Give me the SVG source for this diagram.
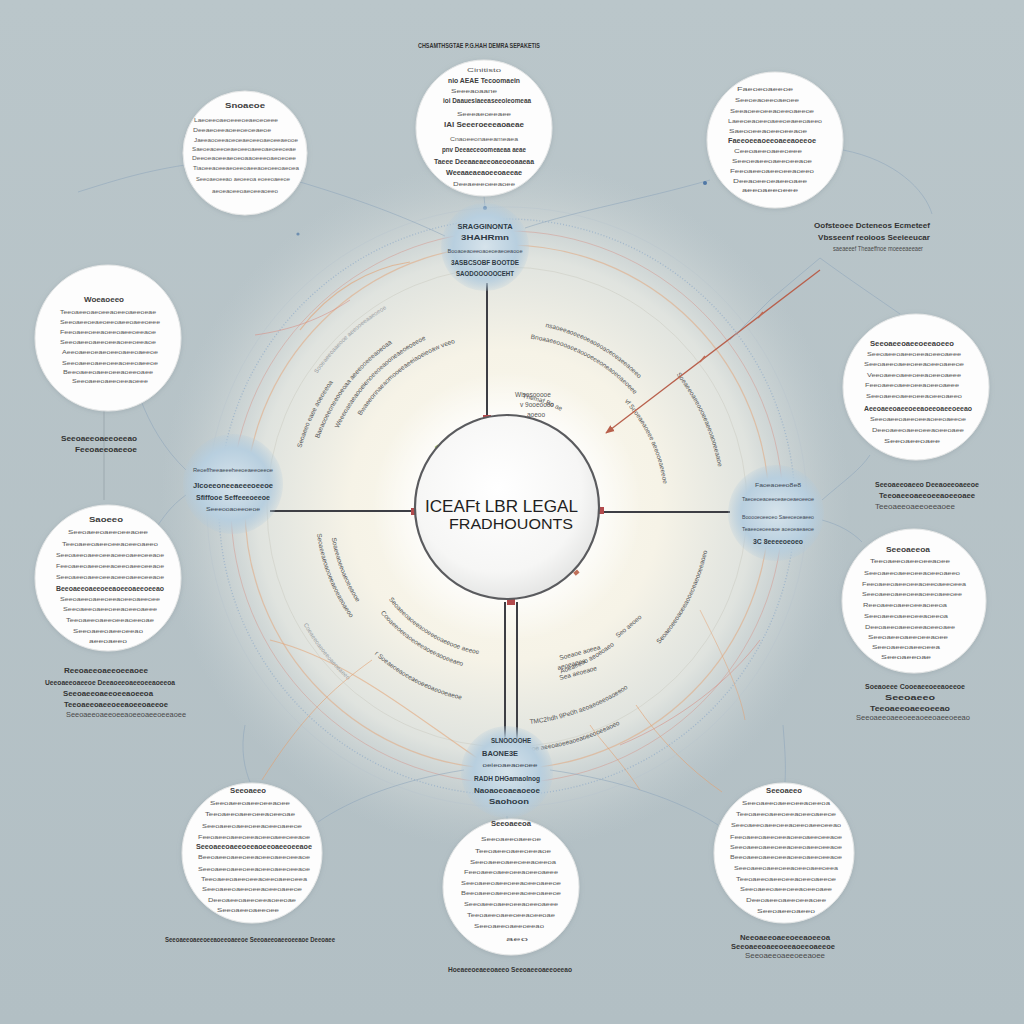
<svg xmlns="http://www.w3.org/2000/svg" width="1024" height="1024" viewBox="0 0 1024 1024">
<defs>
<style>
.ct{font-family:"Liberation Sans",Arial,sans-serif;font-size:6px;fill:#585858;text-anchor:middle}
.cb{font-family:"Liberation Sans",Arial,sans-serif;font-size:6.5px;font-weight:bold;fill:#3e3e3e;text-anchor:middle}
.hb{font-family:"Liberation Sans",Arial,sans-serif;font-size:7px;font-weight:bold;fill:#2f3a44;text-anchor:middle}
.hs{font-family:"Liberation Sans",Arial,sans-serif;font-size:6px;fill:#3c4854;text-anchor:middle}
.lb{font-family:"Liberation Sans",Arial,sans-serif;font-size:7px;font-weight:bold;fill:#333;text-anchor:middle}
.ls{font-family:"Liberation Sans",Arial,sans-serif;font-size:6.5px;fill:#4a4a4a;text-anchor:middle}
.arc{font-family:"Liberation Sans",Arial,sans-serif;font-size:6.5px;fill:#555}
.arcf{font-family:"Liberation Sans",Arial,sans-serif;font-size:6px;fill:#9aa0a4}
.node{fill:#fdfdfd;stroke:#e4e6e6;stroke-width:1;filter:url(#sh)}
.hubc{fill:url(#hub)}
.main{stroke:#3d3e44;stroke-width:2;fill:none}
.faint{stroke:#8ea5bb;stroke-width:0.8;fill:none;opacity:0.7}
.orng{stroke:#e3a070;stroke-width:1;fill:none;opacity:0.6}
.jn{fill:#b24a4c}
</style>
<linearGradient id="bg" x1="0" y1="0" x2="0" y2="1"><stop offset="0" stop-color="#bac6ca"/><stop offset="1" stop-color="#b2bfc4"/></linearGradient>
<radialGradient id="glow" cx="505" cy="505" r="345" gradientUnits="userSpaceOnUse">
<stop offset="0" stop-color="#fbf9ee"/><stop offset="0.45" stop-color="#f6f3e7"/><stop offset="0.72" stop-color="#e7e9e3" stop-opacity="0.85"/><stop offset="1" stop-color="#c6d0d3" stop-opacity="0"/></radialGradient>
<radialGradient id="halo" cx="507" cy="507" r="135" gradientUnits="userSpaceOnUse"><stop offset="0.6" stop-color="#ffffff" stop-opacity="0.9"/><stop offset="1" stop-color="#ffffff" stop-opacity="0"/></radialGradient>
<radialGradient id="core" cx="0.45" cy="0.4" r="0.65"><stop offset="0" stop-color="#ffffff"/><stop offset="0.7" stop-color="#f6f6f5"/><stop offset="1" stop-color="#e0e1e0"/></radialGradient>
<radialGradient id="hub" cx="0.5" cy="0.5" r="0.5"><stop offset="0" stop-color="#d6e3eb"/><stop offset="0.72" stop-color="#b8cfdf"/><stop offset="1" stop-color="#b0c9db" stop-opacity="0.2"/></radialGradient>
<filter id="sh" x="-20%" y="-20%" width="140%" height="140%"><feDropShadow dx="0" dy="1" stdDeviation="2.5" flood-color="#7f8f96" flood-opacity="0.35"/></filter>
<marker id="ah" viewBox="0 0 10 10" refX="9" refY="5" markerWidth="7" markerHeight="7" orient="auto"><path d="M0,1 L10,5 L0,9 z" fill="#b8604c"/></marker>
<path id="a1" d="M361.1,415.8 A172,172 0 0,1 453.8,343.4"/>
<path id="a2" d="M338.5,428.4 A186,186 0 0,1 431.3,337"/>
<path id="a3" d="M319,438.6 A200,200 0 0,1 401,337.4"/>
<path id="a4" d="M301.3,448 A214,214 0 0,1 358.3,353.1"/>
<path id="a5" d="M317,373.8 A232,232 0 0,1 427.7,288.9"/>
<path id="b1" d="M530.6,338.7 A170,170 0 0,1 633.3,393.3"/>
<path id="b2" d="M545.3,327 A184,184 0 0,1 639.3,379.1"/>
<path id="b3" d="M624.4,401.3 A158,158 0 0,1 663.4,485"/>
<path id="b4" d="M676.4,374.6 A215,215 0 0,1 719.9,477.1"/>
<path id="b5" d="M522.3,398.1 A110,110 0 0,1 562,411.7"/>
<path id="c1" d="M388.8,599.4 A150,150 0 0,0 480.9,654.7"/>
<path id="c2" d="M380.6,613.1 A165,165 0 0,0 472.7,668.4"/>
<path id="c3" d="M374.5,654.1 A198,198 0 0,0 462.5,699.9"/>
<path id="c4" d="M316.9,533.7 A192,192 0 0,0 359.9,630.4"/>
<path id="c5" d="M331.7,537.9 A178,178 0 0,0 361.2,609.2"/>
<path id="c6" d="M303.5,624.5 A235,235 0 0,0 389.5,710.5"/>
<path id="d1" d="M529.9,723.9 A218,218 0 0,0 628.9,687.7"/>
<path id="d2" d="M524.1,751.5 A245,245 0 0,0 621.9,723.3"/>
<path id="d3" d="M561.1,673.4 A175,175 0 0,0 619.5,641.1"/>
<path id="d4" d="M659.3,644.1 A205,205 0 0,0 707.5,549.6"/>
</defs>

<rect width="1024" height="1024" fill="url(#bg)"/>
<circle cx="505" cy="505" r="345" fill="url(#glow)"/>

<g id="rings" fill="none">
<circle cx="507" cy="507" r="240" stroke="#c9c9bf" stroke-width="1" opacity="0.5"/>
<circle cx="507" cy="507" r="262" stroke="#e3a273" stroke-width="1.2" opacity="0.5"/>
<circle cx="507" cy="507" r="276" stroke="#d8877a" stroke-width="1" opacity="0.4"/>
<circle cx="507" cy="507" r="288" stroke="#7c9dc6" stroke-width="1.3" stroke-dasharray="1 2" opacity="0.5"/>
<circle cx="507" cy="507" r="300" stroke="#b6c2cc" stroke-width="0.8" opacity="0.5"/>
<path d="M300,330 C330,290 370,268 410,262" stroke="#e3a070" stroke-width="1.2" opacity="0.6"/>
<path d="M255,335 C290,330 320,320 350,300" stroke="#d98478" stroke-width="1" opacity="0.5"/>
<path d="M270,640 C350,660 420,720 480,760" stroke="#e3a070" stroke-width="1.2" opacity="0.55"/>
<path d="M700,610 C720,650 740,690 745,720" stroke="#e3a070" stroke-width="1" opacity="0.5"/>
<path d="M620,745 C680,720 730,680 760,640" stroke="#d98478" stroke-width="1" opacity="0.5"/>
</g>
<circle cx="507" cy="507" r="135" fill="url(#halo)"/>

<g id="arctext">
<text class="arc"><textPath href="#a1">Bwaeeonnaeaomooeeaeeiaoeieoaw veeoeo</textPath></text>
<text class="arc"><textPath href="#a2">Weeeoaeaeaooeienoeeoeaooneaeoeoeeoe</textPath></text>
<text class="arc"><textPath href="#a3">Baeaooeeoneeooeoaa aeeeooeeeaoeoaa</textPath></text>
<text class="arc"><textPath href="#a4">Seoaeeo eaee aoeoeeoa</textPath></text>
<text class="arcf"><textPath href="#a5">Sooeaeeoaaeooe  aeeooeeaaeoeoe</textPath></text>
<text class="arc"><textPath href="#b1">Bnoaaeeoooaeeaoooeeeoneaoeoaeoeee</textPath></text>
<text class="arc"><textPath href="#b2">nsaoeeaoeeeoeaoeoaoeoeaeeaoeeo</textPath></text>
<text class="arc"><textPath href="#b3">vf Sooeaeaoeee aeeooeaeeeoe</textPath></text>
<text class="arc"><textPath href="#b4">Soeaeeoaeeoooeeaeeoaooeeaaoe</textPath></text>
<text class="arc"><textPath href="#b5">Themaf Bo aehd</textPath></text>
<text class="arc"><textPath href="#c1">Seoaeeoaoeeaooeeeoaeeooe aeeoe</textPath></text>
<text class="arc"><textPath href="#c2">Cooaeeoeeaoeoeeaoeeaooeeaeo</textPath></text>
<text class="arc"><textPath href="#c3">r Soeaeoeaoeeaeoeeoaeooeaeoeaoe</textPath></text>
<text class="arc"><textPath href="#c4">Seoaeeaeoaooeeaeoeaeoaeoo</textPath></text>
<text class="arc"><textPath href="#c5">Soaeeaoeeoaeoeeaooe</textPath></text>
<text class="arcf"><textPath href="#c6">Coeaeeoaeoeeoaeoeaeeo</textPath></text>
<text class="arc"><textPath href="#d1">TMC2hdh 9Pe0h aeoaeoeeoaoeeooea</textPath></text>
<text class="arc"><textPath href="#d2">Seoe aeeoaoeeaoeaoeeooeeaoeo</textPath></text>
<text class="arc"><textPath href="#d3">Aoeaeeoo aeoeoaeo</textPath></text>
<text class="arc"><textPath href="#d4">Seoaeoeeoaoeeaooeoeaeooeeaoeo</textPath></text>
<text class="arc" x="560" y="660" transform="rotate(-15 560 660)">Soeaoe aoeea</text>
<text class="arc" x="558" y="670" transform="rotate(-15 558 670)">aeoeaeea</text>
<text class="arc" x="560" y="680" transform="rotate(-15 560 680)">Sea aeoeaoe</text>
<text class="arc" x="618" y="638" transform="rotate(-40 618 638)">Seo aeoeo</text>
<text class="arc" x="515" y="397">Wisosooooe</text>
<text class="arc" x="520" y="407">v 9ooeoooo</text>
<text class="arc" x="527" y="417">aoeoo</text>
</g>

<g id="connectors">
<line class="main" x1="487" y1="283" x2="487" y2="418"/>
<line class="main" x1="270" y1="511" x2="416" y2="511"/>
<line class="main" x1="599" y1="512" x2="730" y2="512"/>
<line class="main" x1="505" y1="602" x2="505" y2="740"/>
<line class="main" x1="517" y1="602" x2="517" y2="740"/>
<path d="M820,270 L606,433" stroke="#b8604c" stroke-width="1.3" fill="none" marker-end="url(#ah)"/>
<path d="M758,318 l5,-6 M700,362 l5,-6" stroke="#c06a55" stroke-width="1.5"/>
<path class="faint" d="M300,182 C360,200 400,215 445,236"/>
<path class="faint" d="M185,165 C140,172 110,182 78,192"/>
<path class="faint" d="M484,196 L485,207"/>
<path class="faint" d="M710,180 C640,200 580,210 525,228"/>
<path class="faint" d="M843,150 C895,160 925,190 932,214"/>
<path class="faint" d="M820,258 C850,280 880,300 900,314"/>
<path class="faint" d="M820,258 L770,300 L730,340"/>
<path d="M104,405 L104,500" stroke="#9aa6ad" stroke-width="0.9" fill="none"/>
<path class="faint" d="M186,470 C165,450 150,425 140,398"/>
<path class="faint" d="M186,495 C165,510 160,525 150,535"/>
<path class="faint" d="M822,520 C840,525 852,532 862,542"/>
<path class="faint" d="M822,500 C845,480 860,470 870,455"/>
<path class="faint" d="M464,770 C400,780 350,800 318,822"/>
<path class="faint" d="M550,770 C620,780 680,800 718,825"/>
<path class="faint" d="M507,816 L507,821"/>
<path class="faint" d="M245,725 C240,750 245,770 250,782"/>
<path class="faint" d="M783,725 C785,750 786,765 785,782"/>
<path class="orng" d="M262,780 C300,720 330,690 372,660"/>
<path class="orng" d="M722,792 C690,770 660,740 636,705"/>
<path class="orng" d="M640,790 C620,760 600,740 590,725"/>
<circle cx="485" cy="208" r="2" fill="#4f77a5"/>
<circle cx="705" cy="183" r="2" fill="#4f77a5"/>
<circle cx="298" cy="234" r="1.6" fill="#6f8fb0"/>
<rect class="jn" x="483" y="415" width="8" height="6"/>
<rect class="jn" x="411" y="508" width="7" height="7"/>
<rect class="jn" x="597" y="507" width="7" height="7"/>
<rect class="jn" x="507" y="599" width="8" height="6"/>
<rect x="436" y="445" width="4" height="6" fill="#a7c070" transform="rotate(-40 438 448)"/>
<rect x="574" y="571" width="5" height="4" fill="#c0705a" transform="rotate(-40 576 573)"/>
</g>

<g id="center">
<circle cx="507" cy="507" r="92" fill="url(#core)" stroke="#5a5b5e" stroke-width="2.2"/>
<text x="501.5" y="512" font-family="Liberation Sans, Arial, sans-serif" font-size="16" fill="#1f1f22" text-anchor="middle" textLength="153" lengthAdjust="spacingAndGlyphs">ICEAFt LBR LEGAL</text>
<text x="511" y="529" font-family="Liberation Sans, Arial, sans-serif" font-size="15.5" fill="#1f1f22" text-anchor="middle" textLength="124" lengthAdjust="spacingAndGlyphs">FRADHOUONTS</text>
</g>

<g id="hub-top">
<circle class="hubc" cx="485" cy="247" r="44"/>
<text class="hb" x="485" y="229" textLength="55" lengthAdjust="spacingAndGlyphs">SRAGGINONTA</text>
<text class="hb" x="485" y="240" textLength="48" lengthAdjust="spacingAndGlyphs">3HAHRmn</text>
<text class="hs" x="485" y="253" textLength="75" lengthAdjust="spacingAndGlyphs">Booaoeaoeeoaoeoeaeoeaooe</text>
<text class="hb" x="485" y="265" textLength="68" lengthAdjust="spacingAndGlyphs">3ASBCSOBF BOOTDE</text>
<text class="hb" x="485" y="276" textLength="58" lengthAdjust="spacingAndGlyphs">SAODOOOOOCEHT</text>
</g>

<g id="hub-left">
<circle class="hubc" cx="233" cy="484" r="50"/>
<text class="hs" x="233" y="472" textLength="80" lengthAdjust="spacingAndGlyphs">Reoeffheeaeeeheeoeaeeoeeoe</text>
<text class="hb" x="233" y="488" textLength="80" lengthAdjust="spacingAndGlyphs">Jlcoeeoneeaeeeoeeoe</text>
<text class="hb" x="233" y="500" textLength="74" lengthAdjust="spacingAndGlyphs">Sfiffooe Seffeeeoeeoe</text>
<text class="hs" x="233" y="511" textLength="54" lengthAdjust="spacingAndGlyphs">Seeeooaoeeoeoe</text>
</g>

<g id="hub-right">
<circle class="hubc" cx="776" cy="513" r="48"/>
<text class="hs" x="778" y="487" textLength="46" lengthAdjust="spacingAndGlyphs">Faoeaoeeo8e8</text>
<text class="hs" x="778" y="501" textLength="72" lengthAdjust="spacingAndGlyphs">Taeoeoeaoeeoeaeoeaeoeeoe</text>
<text class="hs" x="778" y="519" textLength="72" lengthAdjust="spacingAndGlyphs">Booooeoeeoeo Saeeoeoeaeeo</text>
<text class="hs" x="778" y="531" textLength="72" lengthAdjust="spacingAndGlyphs">Teaeeoeoeeaoe aoeoeaeaeoe</text>
<text class="hb" x="778" y="544" textLength="50" lengthAdjust="spacingAndGlyphs">3C 8eeeeoeoeo</text>
</g>

<g id="hub-bottom">
<circle class="hubc" cx="507" cy="772" r="46"/>
<text class="hb" x="511" y="743" textLength="40" lengthAdjust="spacingAndGlyphs">SLNOOOOHE</text>
<text class="hb" x="500" y="756" textLength="36" lengthAdjust="spacingAndGlyphs">BAONE3E</text>
<text class="hs" x="510" y="767" textLength="55" lengthAdjust="spacingAndGlyphs">oeieoaeaoeoee</text>
<text class="hb" x="507" y="781" textLength="66" lengthAdjust="spacingAndGlyphs">RADH DHGamaolnog</text>
<text class="hb" x="507" y="793" textLength="66" lengthAdjust="spacingAndGlyphs">Naoaoeoaeaoeoe</text>
<text class="hb" x="509" y="804" textLength="40" lengthAdjust="spacingAndGlyphs">Saohoon</text>
</g>

<g id="node-1">
<circle class="node" cx="484" cy="128" r="68"/>
<text class="ct" x="484" y="72" textLength="34" lengthAdjust="spacingAndGlyphs">Cinitisto</text>
<text class="cb" x="484" y="83" textLength="72" lengthAdjust="spacingAndGlyphs">nio AEAE Tecoomaein</text>
<text class="ct" x="474" y="93" textLength="46" lengthAdjust="spacingAndGlyphs">Seeeaoaane</text>
<text class="cb" x="487" y="103" textLength="88" lengthAdjust="spacingAndGlyphs">ioi Daauesiaeeaseeoieomeaa</text>
<text class="ct" x="484" y="116" textLength="54" lengthAdjust="spacingAndGlyphs">Seeeaeoeeaee</text>
<text class="cb" x="484" y="127" textLength="80" lengthAdjust="spacingAndGlyphs">IAI Seeeroeeeaoaeae</text>
<text class="ct" x="484" y="141" textLength="68" lengthAdjust="spacingAndGlyphs">Cnaoeeonaeeameaea</text>
<text class="cb" x="484" y="152" textLength="84" lengthAdjust="spacingAndGlyphs">pnv Deeaeceoomeaeaa aeae</text>
<text class="cb" x="484" y="164" textLength="100" lengthAdjust="spacingAndGlyphs">Taeee Deeaaeaeeoaeoeoaaeaa</text>
<text class="cb" x="484" y="175" textLength="76" lengthAdjust="spacingAndGlyphs">Weeaaeaeaoeeoaeeae</text>
<text class="ct" x="484" y="186" textLength="62" lengthAdjust="spacingAndGlyphs">Deeaeeeoeeaoee</text>
</g>

<g id="node-2">
<circle class="node" cx="245" cy="153" r="62"/>
<text class="cb" x="245" y="108" textLength="40" lengthAdjust="spacingAndGlyphs">Snoaeoe</text>
<text class="ct" x="236" y="122" textLength="84" lengthAdjust="spacingAndGlyphs">Laeoeeoaeoeeeoeaeoeoeee</text>
<text class="ct" x="232" y="132" textLength="78" lengthAdjust="spacingAndGlyphs">Deeaeoeeaoeeoeoeaeoe</text>
<text class="ct" x="246" y="142" textLength="104" lengthAdjust="spacingAndGlyphs">Jaeeaooeeaoeoeaeoeeoaeoeeaeooe</text>
<text class="ct" x="244" y="151" textLength="104" lengthAdjust="spacingAndGlyphs">Saeoeaoeeoeaeoeeoaeeoaeoeeoeae</text>
<text class="ct" x="244" y="160" textLength="104" lengthAdjust="spacingAndGlyphs">Deeoeaoeeaeoeoaaoeeeoaeoeoee</text>
<text class="ct" x="246" y="170" textLength="106" lengthAdjust="spacingAndGlyphs">Tiaoeeaoeeaeoeeoaeeaoeoeeoaeoea</text>
<text class="ct" x="243" y="181" textLength="94" lengthAdjust="spacingAndGlyphs">Seeoaeoeeao aeoeeoa eoeeoaeeoe</text>
<text class="ct" x="245" y="193" textLength="66" lengthAdjust="spacingAndGlyphs">aeoeaoeeoaeoeeaoeeo</text>
</g>

<g id="node-3">
<circle class="node" cx="775" cy="140" r="68"/>
<text class="ct" x="765" y="91" textLength="56" lengthAdjust="spacingAndGlyphs">Faeoeoaeeoe</text>
<text class="ct" x="767" y="102" textLength="64" lengthAdjust="spacingAndGlyphs">Seeoeaoeeoaeoee</text>
<text class="ct" x="772" y="113" textLength="84" lengthAdjust="spacingAndGlyphs">Seeaoeeoeeaoeeoaeeoe</text>
<text class="ct" x="775" y="123" textLength="94" lengthAdjust="spacingAndGlyphs">Laeeoeaoeeoaeeoeaeeoaeeo</text>
<text class="ct" x="768" y="133" textLength="78" lengthAdjust="spacingAndGlyphs">Saeooeeaoeeoeeaoe</text>
<text class="cb" x="772" y="143" textLength="88" lengthAdjust="spacingAndGlyphs">Faeeoeeaoeeoaeeaoeeoe</text>
<text class="ct" x="768" y="153" textLength="68" lengthAdjust="spacingAndGlyphs">Ceeoaeeoaeeoeee</text>
<text class="ct" x="772" y="163" textLength="80" lengthAdjust="spacingAndGlyphs">Seeoeaeeoaeeoeeaoe</text>
<text class="ct" x="772" y="173" textLength="84" lengthAdjust="spacingAndGlyphs">Feeoaeeoaeeoeeaoeeo</text>
<text class="ct" x="770" y="183" textLength="74" lengthAdjust="spacingAndGlyphs">Deeaoeeoeaeeoaee</text>
<text class="ct" x="770" y="192" textLength="56" lengthAdjust="spacingAndGlyphs">aeeoaeeoeee</text>
</g>

<g id="node-4">
<circle class="node" cx="108" cy="338" r="73"/>
<text class="cb" x="104" y="302" textLength="40" lengthAdjust="spacingAndGlyphs">Woeaoeeo</text>
<text class="ct" x="108" y="314" textLength="96" lengthAdjust="spacingAndGlyphs">Teeoaeeoaeoeeaoeeoaeeoeae</text>
<text class="ct" x="110" y="324" textLength="100" lengthAdjust="spacingAndGlyphs">Seeoaeeoeaeoeeoaeeoaeeoeee</text>
<text class="ct" x="108" y="334" textLength="96" lengthAdjust="spacingAndGlyphs">Feeoaeeoeeaoeeoaeeoeeaoe</text>
<text class="ct" x="108" y="344" textLength="96" lengthAdjust="spacingAndGlyphs">Seeoaeeoaeeoeeaoeeoeeaoe</text>
<text class="ct" x="110" y="354" textLength="96" lengthAdjust="spacingAndGlyphs">Aeeoaeeoeaeoeeoaeeoaeeoe</text>
<text class="ct" x="110" y="365" textLength="96" lengthAdjust="spacingAndGlyphs">Seeoaeeoaeeoeeaoeeoaeeoe</text>
<text class="ct" x="108" y="374" textLength="90" lengthAdjust="spacingAndGlyphs">Beeoaeeoaeeoeeaoeeoaee</text>
<text class="ct" x="110" y="383" textLength="76" lengthAdjust="spacingAndGlyphs">Seeoaeeoaeeoeeaoeee</text>
</g>

<g id="node-5">
<circle class="node" cx="916" cy="387" r="73"/>
<text class="cb" x="912" y="346" textLength="84" lengthAdjust="spacingAndGlyphs">Seeoaeeoaeeoeeaoeeo</text>
<text class="ct" x="914" y="356" textLength="94" lengthAdjust="spacingAndGlyphs">Seeoaeeoaeeoeeaoeeoaeee</text>
<text class="ct" x="914" y="366" textLength="100" lengthAdjust="spacingAndGlyphs">Seeoaeeoaeeoeeaoeeoaeeoe</text>
<text class="ct" x="914" y="377" textLength="94" lengthAdjust="spacingAndGlyphs">Veeoaeeoaeeoeeaoeeoaeee</text>
<text class="ct" x="912" y="387" textLength="94" lengthAdjust="spacingAndGlyphs">Feeoaeeoaeeoeeaoeeoaeee</text>
<text class="ct" x="914" y="398" textLength="96" lengthAdjust="spacingAndGlyphs">Seeoaeeoaeeoeeaoeeoaeeo</text>
<text class="cb" x="918" y="411" textLength="108" lengthAdjust="spacingAndGlyphs">Aeeoaeeoaeeoeeaoeeoaeeoeeao</text>
<text class="ct" x="918" y="421" textLength="96" lengthAdjust="spacingAndGlyphs">Seeoaeeoaeeoeeaoeeoaeeoe</text>
<text class="ct" x="918" y="432" textLength="92" lengthAdjust="spacingAndGlyphs">Deeoaeeoaeeoeeaoeeoaee</text>
<text class="ct" x="912" y="443" textLength="56" lengthAdjust="spacingAndGlyphs">Seeoaeeoaee</text>
</g>

<g id="node-6">
<circle class="node" cx="108" cy="578" r="73"/>
<text class="cb" x="106" y="522" textLength="34" lengthAdjust="spacingAndGlyphs">Saoeeo</text>
<text class="ct" x="108" y="534" textLength="80" lengthAdjust="spacingAndGlyphs">Seeoaeeoaeeoeeaoee</text>
<text class="ct" x="110" y="546" textLength="96" lengthAdjust="spacingAndGlyphs">Teeoaeeoaeeoeeaoeeoaeeo</text>
<text class="ct" x="110" y="557" textLength="108" lengthAdjust="spacingAndGlyphs">Seeoaeeoaeeoeeaoeeoaeeoeeaoe</text>
<text class="ct" x="110" y="568" textLength="108" lengthAdjust="spacingAndGlyphs">Feeoaeeoaeeoeeaoeeoaeeoeeaoe</text>
<text class="ct" x="110" y="579" textLength="108" lengthAdjust="spacingAndGlyphs">Seeoaeeoaeeoeeaoeeoaeeoeeaoe</text>
<text class="cb" x="110" y="591" textLength="108" lengthAdjust="spacingAndGlyphs">Beeoaeeoaeeoeeaoeeoaeeoeeao</text>
<text class="ct" x="110" y="601" textLength="100" lengthAdjust="spacingAndGlyphs">Seeoaeeoaeeoeeaoeeoaeeoee</text>
<text class="ct" x="110" y="611" textLength="94" lengthAdjust="spacingAndGlyphs">Seeoaeeoaeeoeeaoeeoaeee</text>
<text class="ct" x="110" y="622" textLength="88" lengthAdjust="spacingAndGlyphs">Teeoaeeoaeeoeeaoeeoae</text>
<text class="ct" x="108" y="633" textLength="70" lengthAdjust="spacingAndGlyphs">Seeoaeeoaeeoeeao</text>
<text class="ct" x="108" y="643" textLength="38" lengthAdjust="spacingAndGlyphs">aeeoaeeo</text>
</g>

<g id="node-7">
<circle class="node" cx="914" cy="601" r="72"/>
<text class="cb" x="908" y="552" textLength="44" lengthAdjust="spacingAndGlyphs">Seeoaeeoa</text>
<text class="ct" x="910" y="563" textLength="80" lengthAdjust="spacingAndGlyphs">Teeoaeeoaeeoeeaoee</text>
<text class="ct" x="912" y="575" textLength="96" lengthAdjust="spacingAndGlyphs">Seeoaeeoaeeoeeaoeeoaeeo</text>
<text class="ct" x="914" y="586" textLength="104" lengthAdjust="spacingAndGlyphs">Feeoaeeoaeeoeeaoeeoaeeoeea</text>
<text class="ct" x="912" y="596" textLength="100" lengthAdjust="spacingAndGlyphs">Seeoaeeoaeeoeeaoeeoaeeoee</text>
<text class="ct" x="905" y="607" textLength="84" lengthAdjust="spacingAndGlyphs">Reeoaeeoaeeoeeaoeeoa</text>
<text class="ct" x="906" y="618" textLength="84" lengthAdjust="spacingAndGlyphs">Seeoaeeoaeeoeeaoeeoa</text>
<text class="ct" x="910" y="629" textLength="90" lengthAdjust="spacingAndGlyphs">Deeoaeeoaeeoeeaoeeoaee</text>
<text class="ct" x="908" y="639" textLength="80" lengthAdjust="spacingAndGlyphs">Seeoaeeoaeeoeeaoee</text>
<text class="ct" x="906" y="649" textLength="68" lengthAdjust="spacingAndGlyphs">Seeoaeeoaeeoeea</text>
<text class="ct" x="906" y="659" textLength="50" lengthAdjust="spacingAndGlyphs">Seeoaeeoae</text>
</g>

<g id="node-8">
<circle class="node" cx="252" cy="853" r="70"/>
<text class="cb" x="248" y="793" textLength="36" lengthAdjust="spacingAndGlyphs">Seeoaeeo</text>
<text class="ct" x="250" y="805" textLength="80" lengthAdjust="spacingAndGlyphs">Seeoaeeoaeeoeeaoee</text>
<text class="ct" x="250" y="816" textLength="90" lengthAdjust="spacingAndGlyphs">Teeoaeeoaeeoeeaoeeoae</text>
<text class="ct" x="252" y="828" textLength="100" lengthAdjust="spacingAndGlyphs">Seeoaeeoaeeoeeaoeeoaeeoe</text>
<text class="ct" x="254" y="839" textLength="112" lengthAdjust="spacingAndGlyphs">Feeoaeeoaeeoeeaoeeoaeeoeeaoe</text>
<text class="cb" x="254" y="849" textLength="116" lengthAdjust="spacingAndGlyphs">Seeoaeeoaeeoeeaoeeoaeeoeeaoe</text>
<text class="ct" x="254" y="859" textLength="112" lengthAdjust="spacingAndGlyphs">Beeoaeeoaeeoeeaoeeoaeeoeeaoe</text>
<text class="ct" x="254" y="871" textLength="112" lengthAdjust="spacingAndGlyphs">Seeoaeeoaeeoeeaoeeoaeeoeeaoe</text>
<text class="ct" x="254" y="881" textLength="106" lengthAdjust="spacingAndGlyphs">Teeoaeeoaeeoeeaoeeoaeeoeea</text>
<text class="ct" x="252" y="891" textLength="100" lengthAdjust="spacingAndGlyphs">Seeoaeeoaeeoeeaoeeoaeeoe</text>
<text class="ct" x="252" y="902" textLength="88" lengthAdjust="spacingAndGlyphs">Deeoaeeoaeeoeeaoeeoae</text>
<text class="ct" x="248" y="912" textLength="62" lengthAdjust="spacingAndGlyphs">Seeoaeeoaeeoee</text>
</g>

<g id="node-9">
<circle class="node" cx="511" cy="887" r="68"/>
<text class="cb" x="511" y="826" textLength="40" lengthAdjust="spacingAndGlyphs">Seeoaeeoa</text>
<text class="ct" x="511" y="841" textLength="60" lengthAdjust="spacingAndGlyphs">Seeoaeeoaeeoe</text>
<text class="ct" x="513" y="853" textLength="76" lengthAdjust="spacingAndGlyphs">Teeoaeeoaeeoeeaoe</text>
<text class="ct" x="513" y="864" textLength="86" lengthAdjust="spacingAndGlyphs">Seeoaeeoaeeoeeaoeeoa</text>
<text class="ct" x="511" y="874" textLength="94" lengthAdjust="spacingAndGlyphs">Feeoaeeoaeeoeeaoeeoaeee</text>
<text class="ct" x="511" y="885" textLength="100" lengthAdjust="spacingAndGlyphs">Seeoaeeoaeeoeeaoeeoaeeoe</text>
<text class="ct" x="511" y="895" textLength="100" lengthAdjust="spacingAndGlyphs">Beeoaeeoaeeoeeaoeeoaeeoe</text>
<text class="ct" x="511" y="906" textLength="94" lengthAdjust="spacingAndGlyphs">Seeoaeeoaeeoeeaoeeoaeee</text>
<text class="ct" x="511" y="917" textLength="88" lengthAdjust="spacingAndGlyphs">Teeoaeeoaeeoeeaoeeoae</text>
<text class="ct" x="509" y="928" textLength="70" lengthAdjust="spacingAndGlyphs">Seeoaeeoaeeoeeao</text>
<text class="ct" x="517" y="941" textLength="22" lengthAdjust="spacingAndGlyphs">aeo</text>
</g>

<g id="node-10">
<circle class="node" cx="784" cy="853" r="70"/>
<text class="cb" x="784" y="793" textLength="36" lengthAdjust="spacingAndGlyphs">Seeoaeeo</text>
<text class="ct" x="786" y="805" textLength="88" lengthAdjust="spacingAndGlyphs">Seeoaeeoaeeoeeaoeeoa</text>
<text class="ct" x="786" y="816" textLength="100" lengthAdjust="spacingAndGlyphs">Teeoaeeoaeeoeeaoeeoaeeoe</text>
<text class="ct" x="786" y="827" textLength="110" lengthAdjust="spacingAndGlyphs">Seeoaeeoaeeoeeaoeeoaeeoeeao</text>
<text class="ct" x="786" y="839" textLength="112" lengthAdjust="spacingAndGlyphs">Feeoaeeoaeeoeeaoeeoaeeoeeaoe</text>
<text class="ct" x="786" y="849" textLength="112" lengthAdjust="spacingAndGlyphs">Seeoaeeoaeeoeeaoeeoaeeoeeaoe</text>
<text class="ct" x="786" y="859" textLength="112" lengthAdjust="spacingAndGlyphs">Beeoaeeoaeeoeeaoeeoaeeoeeaoe</text>
<text class="ct" x="786" y="870" textLength="104" lengthAdjust="spacingAndGlyphs">Seeoaeeoaeeoeeaoeeoaeeoeea</text>
<text class="ct" x="786" y="881" textLength="100" lengthAdjust="spacingAndGlyphs">Teeoaeeoaeeoeeaoeeoaeeoe</text>
<text class="ct" x="786" y="891" textLength="92" lengthAdjust="spacingAndGlyphs">Seeoaeeoaeeoeeaoeeoaee</text>
<text class="ct" x="786" y="902" textLength="80" lengthAdjust="spacingAndGlyphs">Deeoaeeoaeeoeeaoee</text>
<text class="ct" x="786" y="913" textLength="58" lengthAdjust="spacingAndGlyphs">Seeoaeeoaeeo</text>
</g>

<g id="labels">
<text class="lb" x="479" y="48" textLength="122" lengthAdjust="spacingAndGlyphs">CHSAMTHSGTAE P.G.HAH DEMRA SEPAKETIS</text>
<text class="lb" x="872" y="228" textLength="116" lengthAdjust="spacingAndGlyphs">Oofsteoee Dcteneos Ecmeteef</text>
<text class="lb" x="874" y="240" textLength="112" lengthAdjust="spacingAndGlyphs">Vbsseenf reoioos Seeieeucar</text>
<text class="ls" x="878" y="251" textLength="90" lengthAdjust="spacingAndGlyphs">saeaeeef Theaeffnoe moeeeaeeaer</text>
<text class="lb" x="99" y="441" textLength="76" lengthAdjust="spacingAndGlyphs">Seeoaeeoaeeoeeao</text>
<text class="lb" x="106" y="452" textLength="62" lengthAdjust="spacingAndGlyphs">Feeoaeeoaeeoe</text>
<text class="lb" x="927" y="487" textLength="104" lengthAdjust="spacingAndGlyphs">Seeoaeeoaeeo Deeaoeeoaeeoe</text>
<text class="lb" x="927" y="498" textLength="96" lengthAdjust="spacingAndGlyphs">Teeoaeeoaeeoeeaoeeoaee</text>
<text class="ls" x="915" y="509" textLength="80" lengthAdjust="spacingAndGlyphs">Teeoaeeoaeeoeeaoee</text>
<text class="lb" x="106" y="673" textLength="84" lengthAdjust="spacingAndGlyphs">Reeoaeeoaeeoeeaoee</text>
<text class="lb" x="110" y="685" textLength="130" lengthAdjust="spacingAndGlyphs">Ueeoaeeoaeeoe Deeaoeeoaeeoeeaoeeoa</text>
<text class="lb" x="108" y="696" textLength="90" lengthAdjust="spacingAndGlyphs">Seeoaeeoaeeoeeaoeeoa</text>
<text class="lb" x="116" y="707" textLength="104" lengthAdjust="spacingAndGlyphs">Teeoaeeoaeeoeeaoeeoaeeoe</text>
<text class="ls" x="126" y="717" textLength="120" lengthAdjust="spacingAndGlyphs">Seeoaeeoaeeoeeaoeeoaeeoeeaoee</text>
<text class="lb" x="915" y="689" textLength="100" lengthAdjust="spacingAndGlyphs">Soeaoeee Cooeaeeoeeaoeeoe</text>
<text class="lb" x="910" y="700" textLength="50" lengthAdjust="spacingAndGlyphs">Seeoaeeo</text>
<text class="lb" x="910" y="711" textLength="80" lengthAdjust="spacingAndGlyphs">Teeoaeeoaeeoeeao</text>
<text class="ls" x="913" y="720" textLength="114" lengthAdjust="spacingAndGlyphs">Seeoaeeoaeeoeeaoeeoaeeoeeao</text>
<text class="lb" x="250" y="942" textLength="170" lengthAdjust="spacingAndGlyphs">Seeoaeeoaeeoeeaoeeoaeeoe Seeoaeeoaeeoeeaoe Deeoaee</text>
<text class="lb" x="510" y="972" textLength="124" lengthAdjust="spacingAndGlyphs">Hoeaeeoeaeeoaeeo Seeoaeeoaeeoeeao</text>
<text class="lb" x="785" y="940" textLength="90" lengthAdjust="spacingAndGlyphs">Neeoaeeoaeeoeeaoeeoa</text>
<text class="lb" x="783" y="949" textLength="104" lengthAdjust="spacingAndGlyphs">Seeoaeeoaeeoeeaoeeoaeeoe</text>
<text class="ls" x="785" y="958" textLength="80" lengthAdjust="spacingAndGlyphs">Seeoaeeoaeeoeeaoee</text>
</g>
</svg>
